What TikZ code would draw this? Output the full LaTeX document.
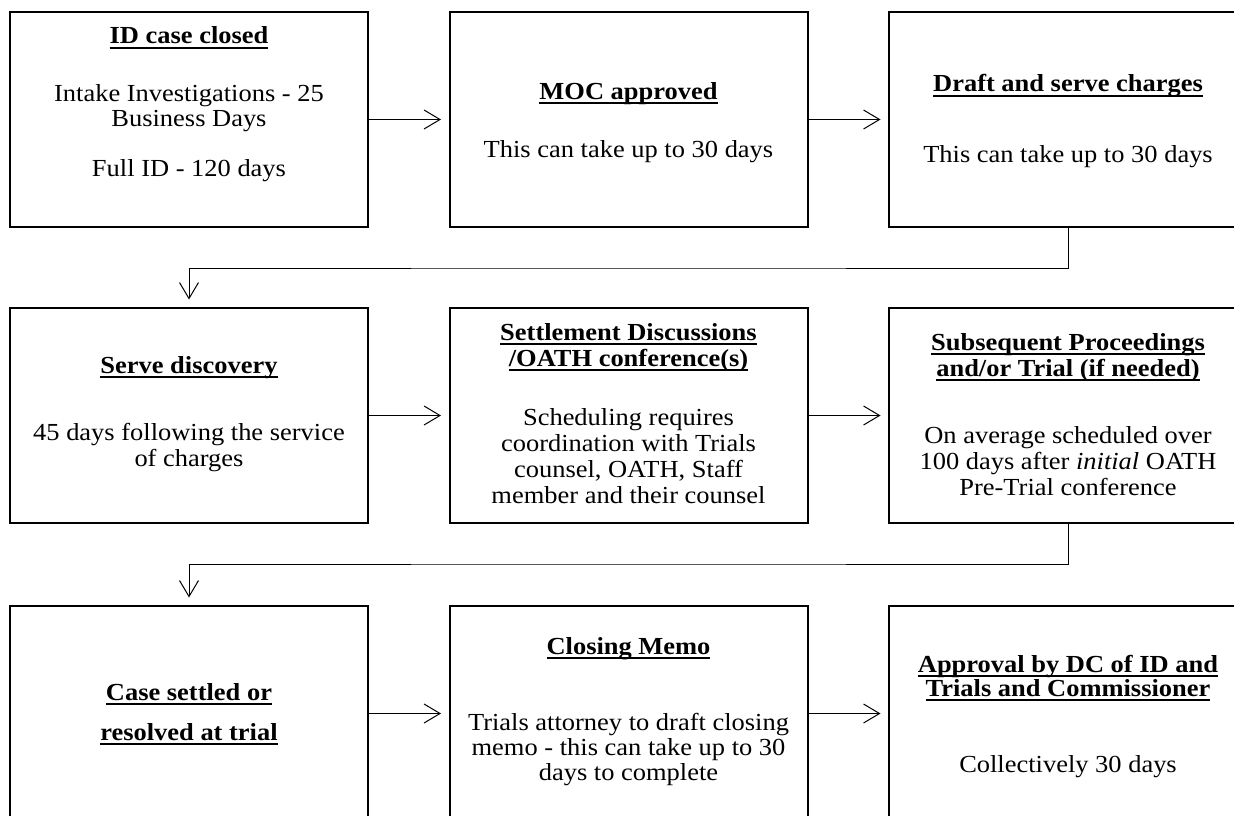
\documentclass[tikz,border=0pt]{standalone}
\usepackage{fontspec}
\setmainfont{Liberation Serif}[FakeStretch=1.08]
\usetikzlibrary{arrows.meta}
\newcommand\myul[1]{\setbox0\hbox{#1}\rlap{\rule[-4.6pt]{\wd0}{1.8pt}}\box0}
\newcommand\mystack[2]{\vtop{\baselineskip=#1\lineskiplimit=-100pt\lineskip=0pt\relax\halign{\hfil##\hfil\cr#2\crcr}}}
\tikzset{
  box/.style={draw=black, line width=2pt, minimum width=358pt, minimum height=215pt, inner sep=0pt},
  txt/.style={anchor=base, inner sep=0pt, font=\fontsize{24.5pt}{25.3pt}\selectfont},
  ttl/.style={anchor=base, inner sep=0pt, font=\fontsize{24.5pt}{25.3pt}\selectfont\bfseries},
  arr/.style={draw=black, line width=1pt, -{Straight Barb[length=16pt,width=19pt]}, shorten >=7.5pt}
}
\begin{document}
\begin{tikzpicture}[x=1pt,y=-1pt]
\useasboundingbox (0,0) rectangle (1234,816);
\clip (0,0) rectangle (1234,816);
% boxes
\node[box] (a1) at (189,119.5) {};
\node[box] (b1) at (628.5,119.5) {};
\node[box] (c1) at (1068,119.5) {};
\node[box] (a2) at (189,415.5) {};
\node[box] (b2) at (628.5,415.5) {};
\node[box] (c2) at (1068,415.5) {};
\node[box] (a3) at (189,713.5) {};
\node[box] (b3) at (628.5,713.5) {};
\node[box] (c3) at (1068,713.5) {};
% texts row 1
\node[ttl] (a1t) at (189,44) {\myul{ID case closed}};
\node[txt] (a1b) at (189,101) {\mystack{25.3pt}{Intake Investigations - 25\cr Business Days\cr\cr Full ID - 120 days}};
\node[ttl] (b1t) at (628.5,99.5) {\myul{MOC approved}};
\node[txt] (b1b) at (628.5,157) {This can take up to 30 days};
\node[ttl] (c1t) at (1068,92) {\myul{Draft and serve charges}};
\node[txt] (c1b) at (1068,162) {This can take up to 30 days};
% texts row 2
\node[ttl] (a2t) at (189,373) {\myul{Serve discovery}};
\node[txt] (a2b) at (189,440) {\mystack{26.5pt}{45 days following the service\cr of charges}};
\node[ttl] (b2t) at (628.5,340) {\mystack{26.5pt}{\myul{Settlement Discussions}\cr\myul{/OATH conference(s)}}};
\node[txt] (b2b) at (628.5,425) {\mystack{26pt}{Scheduling requires\cr coordination with Trials\cr counsel, OATH, Staff\cr member and their counsel}};
\node[ttl] (c2t) at (1068,350) {\mystack{26.5pt}{\myul{Subsequent Proceedings}\cr\myul{and/or Trial (if needed)}}};
\node[txt] (c2b) at (1068,443) {\mystack{26pt}{On average scheduled over\cr 100 days after \textit{initial} OATH\cr Pre-Trial conference}};
% texts row 3
\node[ttl] (a3t) at (189,700) {\mystack{40pt}{\myul{Case settled or}\cr\myul{resolved at trial}}};
\node[ttl] (b3t) at (628.5,654) {\myul{Closing Memo}};
\node[txt] (b3b) at (628.5,730) {\mystack{25pt}{Trials attorney to draft closing\cr memo - this can take up to 30\cr days to complete}};
\node[ttl] (c3t) at (1068,672) {\mystack{24.5pt}{\myul{Approval by DC of ID and}\cr\myul{Trials and Commissioner}}};
\node[txt] (c3b) at (1068,772) {Collectively 30 days};
% connectors
\draw[arr] (a1.east) -- (b1.west);
\draw[arr] (b1.east) -- (c1.west);
\draw[arr] (a2.east) -- (b2.west);
\draw[arr] (b2.east) -- (c2.west);
\draw[arr] (a3.east) -- (b3.west);
\draw[arr] (b3.east) -- (c3.west);
\coordinate (k1) at (628.5,268);
\coordinate (k2) at (628.5,564);
\draw[arr] (c1.south) |- (k1) -| (a2.north);
\draw[arr] (c2.south) |- (k2) -| (a3.north);
\end{tikzpicture}
\end{document}
